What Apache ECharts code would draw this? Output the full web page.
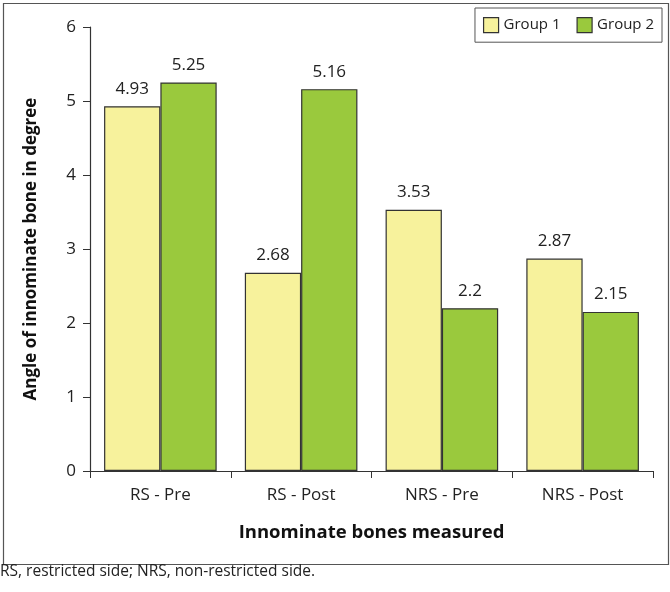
<!DOCTYPE html>
<html><head><meta charset="utf-8">
<script src="https://cdn.jsdelivr.net/npm/echarts@6/dist/echarts.min.js"></script>
<style>html,body{margin:0;padding:0;background:#fff;}#c{width:670px;height:592px;}</style>
</head><body><div id="c"></div>
<script>
const categories = ['RS - Pre', 'RS - Post', 'NRS - Pre', 'NRS - Post'];
const group1 = [4.93, 2.68, 3.53, 2.87];
const group2 = [5.25, 5.16, 2.2, 2.15];
const seriesNames = ['Group 1', 'Group 2'];
const xTitle = 'Innominate bones measured';
const yTitle = 'Angle of innominate bone in degree';
const footnote = 'RS, restricted side; NRS, non-restricted side.';

const FONT = '"Open Sans", "Noto Sans", sans-serif';
const chart = echarts.init(document.getElementById('c'), null, {renderer: 'canvas'});
const mk = (name, data, color) => ({
  name, type: 'bar', data, barGap: '0%', barCategoryGap: '20%',
  itemStyle: {color, borderColor: '#333', borderWidth: 1.2},
  label: {show: true, position: 'top', distance: 9, color: '#222', fontSize: 17, fontFamily: FONT}
});
chart.setOption({
  animation: false,
  textStyle: {fontFamily: FONT},
  grid: {left: 90, right: 17, top: 27, bottom: 121},
  legend: {
    data: seriesNames, right: 8, top: 8, orient: 'horizontal', icon: 'rect',
    itemWidth: 15, itemHeight: 15, itemGap: 16,
    padding: [9, 8, 9, 8],
    borderColor: '#555', borderWidth: 1,
    itemStyle: {borderColor: '#333', borderWidth: 1.2},
    textStyle: {fontSize: 15, color: '#222', fontFamily: FONT}
  },
  xAxis: {
    type: 'category', data: categories,
    axisLine: {lineStyle: {color: '#333', width: 1.2}},
    axisTick: {show: true, length: 7, lineStyle: {color: '#333'}},
    axisLabel: {fontSize: 17, color: '#222', margin: 16, fontFamily: FONT},
    name: xTitle, nameLocation: 'middle', nameGap: 52,
    nameTextStyle: {fontSize: 18.5, fontWeight: 'bold', color: '#111', fontFamily: FONT}
  },
  yAxis: {
    type: 'value', min: 0, max: 6, interval: 1,
    splitLine: {show: false},
    axisLine: {show: true, lineStyle: {color: '#333', width: 1.2}},
    axisTick: {show: true, length: 7, lineStyle: {color: '#333'}},
    axisLabel: {fontSize: 17, color: '#222', margin: 14, fontFamily: FONT},
    name: yTitle, nameLocation: 'middle', nameGap: 50,
    nameTextStyle: {fontSize: 17, fontWeight: 'bold', color: '#111', fontFamily: FONT}
  },
  series: [mk(seriesNames[0], group1, '#F7F29C'), mk(seriesNames[1], group2, '#9AC93D')],
  graphic: [
    {type: 'rect', left: 1, top: 1, shape: {width: 665, height: 561}, style: {fill: 'none', stroke: '#555', lineWidth: 1.2}, silent: true},
    {type: 'text', left: 0, top: 564, style: {text: footnote, fontSize: 15.5, fill: '#222', fontFamily: FONT}}
  ]
});
</script></body></html>
